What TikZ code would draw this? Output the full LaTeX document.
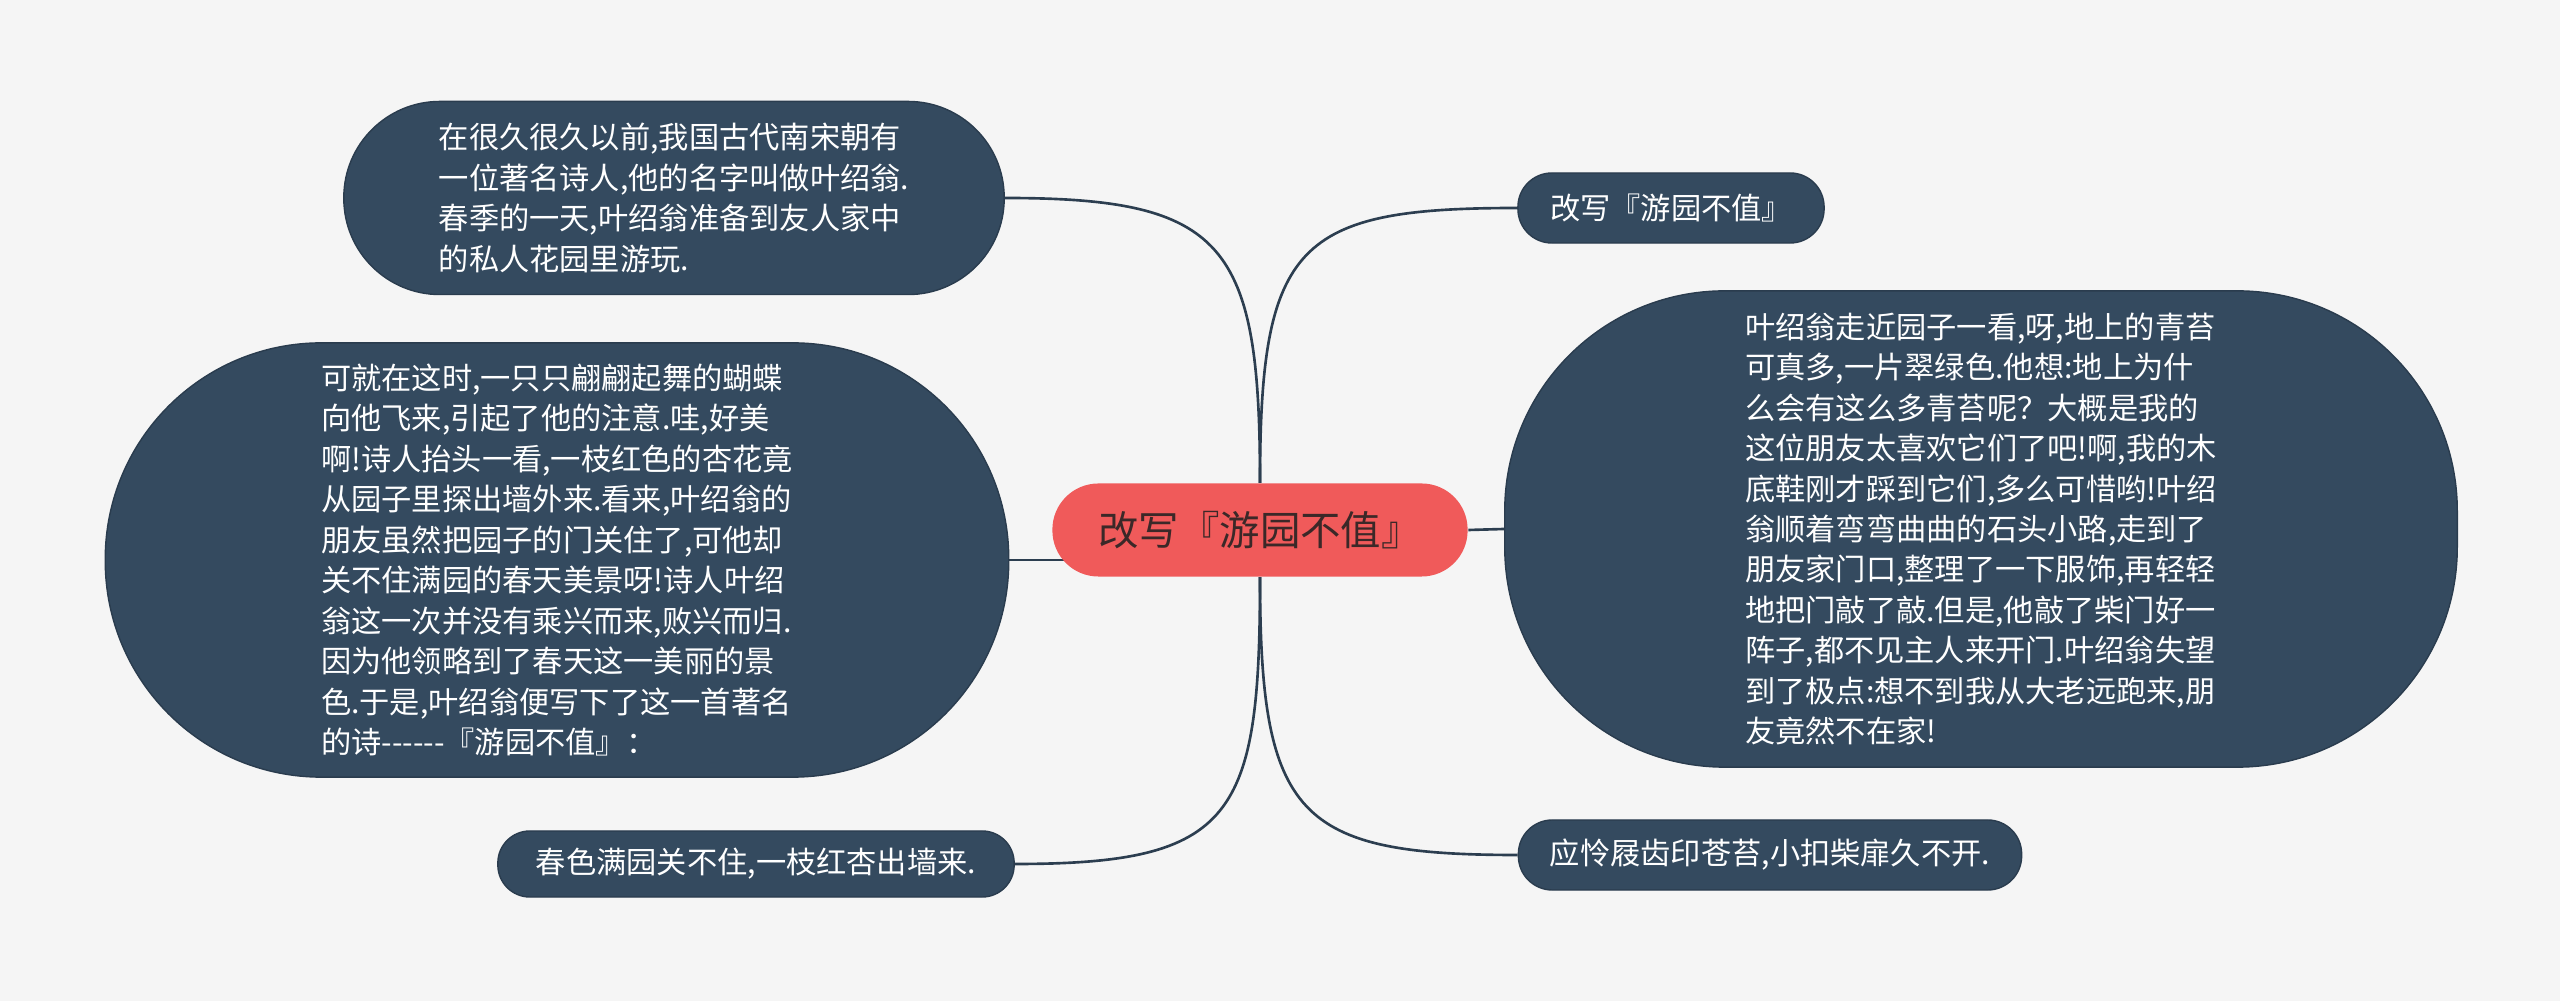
\documentclass[tikz,border=0pt]{standalone}
\usepackage{fontspec}
\setmainfont{Noto Sans CJK SC}
\definecolor{paper}{HTML}{F5F5F5}
\definecolor{topicfill}{HTML}{344A5F}
\definecolor{topicedge}{HTML}{2A3C4E}
\definecolor{rootfill}{HTML}{F05A5A}
\definecolor{roottext}{HTML}{3B2828}
\definecolor{linkcol}{HTML}{2C3E50}
\pgfdeclarelayer{paperlayer}
\pgfdeclarelayer{linklayer}
\pgfsetlayers{paperlayer,linklayer,main}
\begin{document}
\begin{tikzpicture}[x=0.01cm, y=-0.01cm,
  topic/.style={fill=topicfill, draw=topicedge, line width=0.4pt, text=white,
    font=\fontsize{8.6pt}{11.5pt}\selectfont, align=left, inner sep=0pt},
  rootbox/.style={fill=rootfill, text=roottext, rounded corners=0.46cm,
    minimum width=4.15cm, minimum height=0.93cm,
    font=\fontsize{11.5pt}{14pt}\selectfont, inner sep=0pt},
  link/.style={draw=linkcol, line width=0.75pt}]
  % Paper
  \begin{pgfonlayer}{paperlayer}
    \fill[paper] (0,0) rectangle (2560,1001);
  \end{pgfonlayer}

  % Central topic
  \node[rootbox] (root) at (1260,530) {改写『游园不值』};

  % Left branches
  \node[topic, minimum width=6.6cm, minimum height=1.93cm, rounded corners=0.96cm]
    (intro) at (674,198) {在很久很久以前,我国古代南宋朝有\\
一位著名诗人,他的名字叫做叶绍翁.\\
春季的一天,叶绍翁准备到友人家中\\
的私人花园里游玩.};
  \node[topic, minimum width=9.03cm, minimum height=4.34cm, rounded corners=2.16cm]
    (butterfly) at (557,560) {可就在这时,一只只翩翩起舞的蝴蝶\\
向他飞来,引起了他的注意.哇,好美\\
啊!诗人抬头一看,一枝红色的杏花竟\\
从园子里探出墙外来.看来,叶绍翁的\\
朋友虽然把园子的门关住了,可他却\\
关不住满园的春天美景呀!诗人叶绍\\
翁这一次并没有乘兴而来,败兴而归.\\
因为他领略到了春天这一美丽的景\\
色.于是,叶绍翁便写下了这一首著名\\
的诗-{}-{}-{}-{}-{}-『游园不值』：};
  \node[topic, minimum width=5.16cm, minimum height=0.66cm, rounded corners=0.32cm]
    (lineb) at (756,864) {春色满园关不住,一枝红杏出墙来.};

  % Right branches
  \node[topic, minimum width=3.06cm, minimum height=0.7cm, rounded corners=0.34cm]
    (title) at (1671,208) {改写『游园不值』};
  \node[topic, minimum width=9.52cm, minimum height=4.76cm, rounded corners=2.2cm]
    (visit) at (1981,529) {叶绍翁走近园子一看,呀,地上的青苔\\
可真多,一片翠绿色.他想:地上为什\\
么会有这么多青苔呢？大概是我的\\
这位朋友太喜欢它们了吧!啊,我的木\\
底鞋刚才踩到它们,多么可惜哟!叶绍\\
翁顺着弯弯曲曲的石头小路,走到了\\
朋友家门口,整理了一下服饰,再轻轻\\
地把门敲了敲.但是,他敲了柴门好一\\
阵子,都不见主人来开门.叶绍翁失望\\
到了极点:想不到我从大老远跑来,朋\\
友竟然不在家!};
  \node[topic, minimum width=5.03cm, minimum height=0.7cm, rounded corners=0.34cm]
    (linea) at (1770,855) {应怜屐齿印苍苔,小扣柴扉久不开.};

  % Links
  \begin{pgfonlayer}{linklayer}
    \draw[link] (root.north) .. controls +(0,-240) and +(220,0) .. (intro.east);
    \draw[link] (root.north) .. controls +(0,-240) and +(-220,0) .. (title.west);
    \draw[link] (root.south) .. controls +(0,240) and +(220,0) .. (lineb.east);
    \draw[link] (root.south) .. controls +(0,240) and +(-220,0) .. (linea.west);
    \draw[link] (butterfly.east) -- (root.center |- butterfly.east);
    \draw[link] (root.east) -- (visit.west);
  \end{pgfonlayer}
\end{tikzpicture}
\end{document}
